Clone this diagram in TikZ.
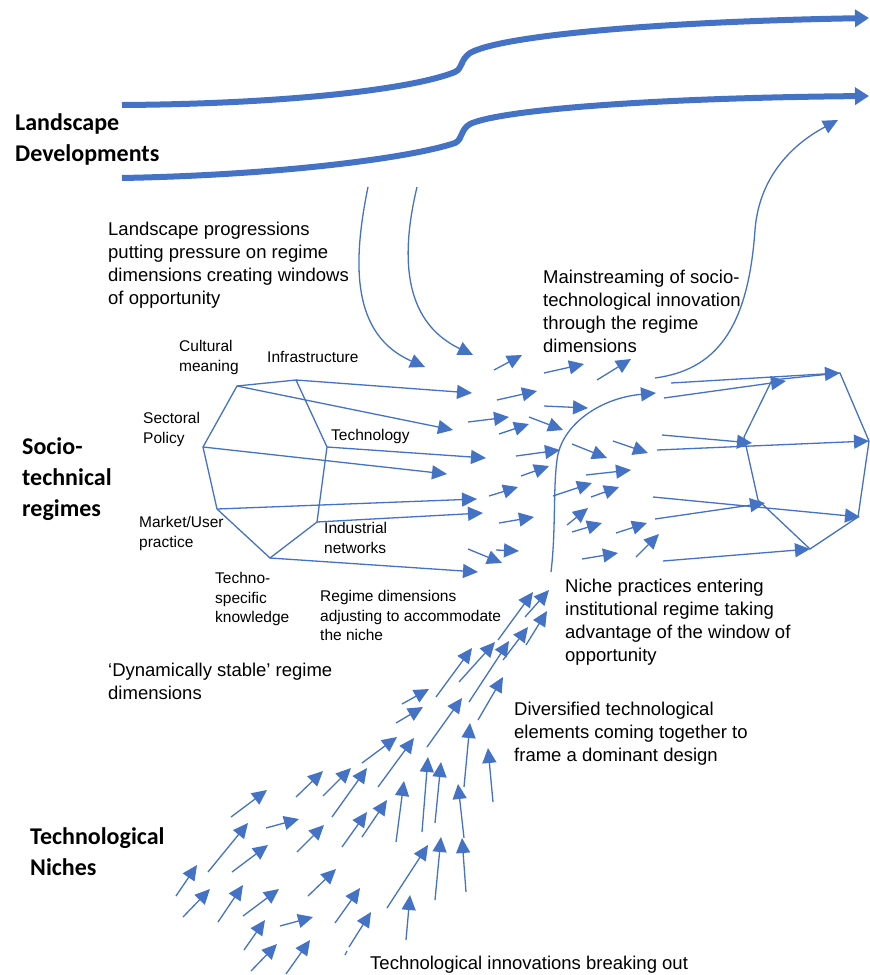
\documentclass[tikz,border=0pt]{standalone}
\usepackage{fontspec}
\setmainfont{Liberation Sans}
\newfontfamily\lvlfont{Carlito}
\usetikzlibrary{arrows.meta}
\definecolor{mpblue}{RGB}{68,114,196}
\begin{document}
\begin{tikzpicture}[x=1pt,y=-1pt,
  ar/.style={draw=mpblue, line width=1.3pt, -{Triangle[length=15pt,width=14pt]}},
  edge/.style={draw=mpblue, line width=1.3pt},
  thk/.style={draw=mpblue, line width=6pt, -{Triangle[length=14pt,width=17pt]}},
  big/.style={font=\fontsize{18.5}{23}\selectfont, align=left, anchor=north west, inner sep=0pt},
  small/.style={font=\fontsize{15.5}{19.5}\selectfont, align=left, anchor=north west, inner sep=0pt},
  lvl/.style={font=\lvlfont\bfseries\fontsize{24}{31}\selectfont, align=left, anchor=north west, inner sep=0pt}]
\useasboundingbox[fill=white] (0,0) rectangle (870,975);

% ---------- landscape thick arrows ----------
\draw[thk] (122,105) .. controls (280,104) and (410,90) .. (455,72)
  .. controls (463,68) and (460,60) .. (470,53)
  .. controls (500,36) and (650,22) .. (869,18);
\draw[thk] (122,178) .. controls (280,175) and (410,158) .. (455,143)
  .. controls (463,139) and (460,130) .. (470,124)
  .. controls (500,110) and (650,98) .. (869,96);

% ---------- labels ----------
\node[lvl] (ld) at (15,113) {Landscape\\Developments};
\node[lvl] (st) at (22,437) {Socio-\\technical\\regimes};
\node[lvl] (tn) at (30,827) {Technological\\Niches};

\node[big] (lp) at (108,222.3) {Landscape progressions\\putting pressure on regime\\dimensions creating windows\\of opportunity};
\node[big] (ms) at (543,270.3) {Mainstreaming of socio-\\technological innovation\\through the regime\\dimensions};
\node[big] (np) at (565,579.3) {Niche practices entering\\institutional regime taking\\advantage of the window of\\opportunity};
\node[big] (ds) at (108,663.3) {‘Dynamically stable’ regime\\dimensions};
\node[big] (dt) at (514,702.3) {Diversified technological\\elements coming together to\\frame a dominant design};
\node[big] (tb) at (370,956.3) {Technological innovations breaking out};

\node[small] (cml) at (179,340.4) {Cultural\\meaning};
\node[small] (infl) at (267,351.4) {Infrastructure};
\node[small] (spl) at (143,412.4) {Sectoral\\Policy};
\node[small] (tel) at (331,429.4) {Technology};
\node[small] (mul) at (139,516.4) {Market/User\\practice};
\node[small] (indl) at (324,522.4) {Industrial\\networks};
\node[small] (tsl) at (215,572.4) {Techno-\\specific\\knowledge};
\node[small] (rdl) at (320,590.4) {Regime dimensions\\adjusting to accommodate\\the niche};

% ---------- landscape pressure curves ----------
\draw[ar] (368,187) .. controls (352,265) and (352,335) .. (425,367);
\draw[ar] (417,187) .. controls (402,250) and (400,320) .. (473,355);

% ---------- left heptagon ----------
\coordinate (CM) at (237,386);
\coordinate (IN) at (296,380);
\coordinate (TE) at (327,447);
\coordinate (ID) at (317,522);
\coordinate (TS) at (270,558);
\coordinate (MU) at (217,509);
\coordinate (SP) at (203,447);
\draw[edge] (CM) -- (IN) -- (TE) -- (ID) -- (TS) -- (MU) -- (SP) -- cycle;
\draw[ar] (IN) -- (472,393);
\draw[ar] (CM) -- (453,430);
\draw[ar] (TE) -- (486,458);
\draw[ar] (SP) -- (447,474);
\draw[ar] (MU) -- (477,499);
\draw[ar] (ID) -- (483,513);
\draw[ar] (TS) -- (478,572);

% ---------- middle small arrows ----------
\foreach \a/\b/\c/\d in {494/370/522/355, 544/373/584/364, 597/380/631/359,
  497/400/537/391, 544/406/588/408, 468/422/509/417, 499/434/529/424,
  529/417/563/430, 516/456/560/450, 572/444/607/458, 613/441/648/453,
  521/476/549/466, 489/496/518/487, 499/523/534/517, 468/549/502/563,
  496/550/519/551, 553/496/592/483, 591/497/619/487, 586/475/631/470,
  567/525/588/508, 572/532/602/523, 582/559/618/553, 616/533/647/523,
  636/557/659/534}
  \draw[ar] (\a,\b) -- (\c,\d);

% ---------- niche to regime curve ----------
\draw[ar] (551,572) .. controls (556,530) and (553,490) .. (557,460)
  .. controls (561,425) and (600,398) .. (656,393);
% ---------- mainstreaming curve ----------
\draw[ar] (655,378) .. controls (715,370) and (748,330) .. (755,230)
  .. controls (760,165) and (808,136) .. (838,120);

% ---------- right heptagon ----------
\coordinate (TL) at (772,380);
\coordinate (TR) at (840,373);
\coordinate (RR) at (869,441);
\coordinate (BR) at (858,517);
\coordinate (BB) at (810,549);
\coordinate (BL) at (758,500);
\coordinate (LL) at (744,437);
\draw[edge] (TL) -- (TR) -- (RR) -- (BR) -- (BB) -- (BL) -- (LL) -- cycle;
\draw[ar] (671,383) -- (TR);
\draw[ar] (664,398) -- (786,381);
\draw[ar] (662,435) -- (752,443);
\draw[ar] (657,450) -- (RR);
\draw[ar] (653,497) -- (860,517);
\draw[ar] (655,519) -- (765,503);
\draw[ar] (663,561) -- (BB);

% ---------- niche arrows ----------
\foreach \a/\b/\c/\d in {498/640/533/592, 525/617/549/590, 526/645/547/611,
  436/697/472/648, 459/682/495/642, 469/702/509/641, 503/660/528/627,
  402/704/429/689, 396/723/423/707, 427/747/462/698, 478/720/503/677,
  362/763/397/737, 378/787/414/738, 422/832/428/757, 435/823/441/762,
  464/787/470/723, 493/802/488/748, 464/838/458/784, 396/842/404/781,
  362/837/387/800, 342/847/367/812, 332/817/367/768, 323/796/351/768,
  296/797/323/771, 231/817/267/790, 266/828/299/819, 297/852/324/825,
  208/872/248/823, 232/872/268/845, 176/896/197/865, 183/917/210/889,
  218/922/243/885, 243/916/279/889, 308/896/336/869, 280/926/313/917,
  244/950/265/920, 251/971/277/944, 286/974/310/940, 335/923/360/888,
  349/947/371/912, 387/908/428/845, 406/940/410/895, 435/900/441/837,
  466/892/462/838}
  \draw[ar] (\a,\b) -- (\c,\d);
\draw[edge] (345,955) -- (347,951);
\end{tikzpicture}
\end{document}
